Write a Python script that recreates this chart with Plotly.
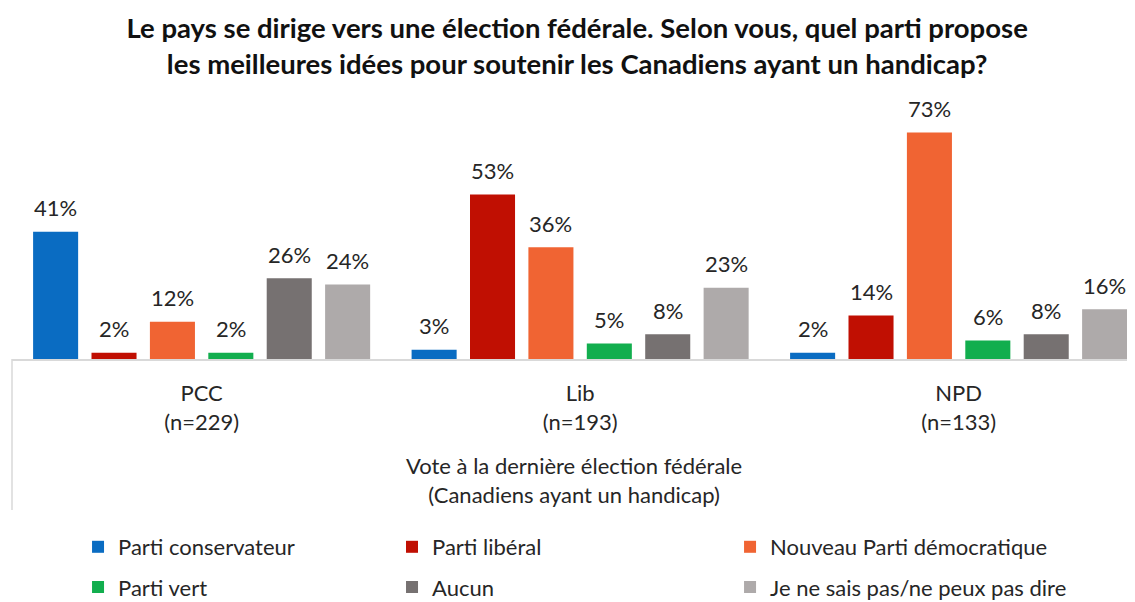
import plotly.graph_objects as go

groups = ["PCC<br>(n=229)", "Lib<br>(n=193)", "NPD<br>(n=133)"]
series = ["Parti conservateur", "Parti libéral", "Nouveau Parti démocratique",
          "Parti vert", "Aucun", "Je ne sais pas/ne peux pas dire"]
conservateur = [41, 3, 2]
liberal = [2, 53, 14]
npd = [12, 36, 73]
vert = [2, 5, 6]
aucun = [26, 8, 8]
nsp = [24, 23, 16]
values = [conservateur, liberal, npd, vert, aucun, nsp]
colors = ["#0A6CC2", "#C00F02", "#F06433", "#12AE4E", "#767171", "#AEAAAA"]

FONT = "Lato"
TXT = "#262626"
pitch = 0.1543
width = 0.119
xs = [0, 1, 2]

# legend slot layout: 3 columns x 2 rows
legend_cols = [0.0588, 0.3384, 0.6394]
legend_rows = [0.0926, 0.0250]

fig = go.Figure()
annotations = []
legends = {}
for i, (name, vals, col) in enumerate(zip(series, values, colors)):
    off = (i - 2.5) * pitch - width / 2
    lid = "legend" if i == 0 else f"legend{i + 1}"
    legends[lid] = dict(
        orientation="h", x=legend_cols[i % 3], xanchor="left",
        y=legend_rows[i // 3], yanchor="middle", yref="container",
        font=dict(family=FONT, size=22, color=TXT), bgcolor="rgba(0,0,0,0)",
    )
    fig.add_trace(go.Bar(
        x=xs, y=vals, name=name, offset=off, width=width,
        marker=dict(color=col, line=dict(width=0)),
        legend=lid, showlegend=True,
        hovertemplate="%{y}%<extra>" + name + "</extra>",
    ))
    for g, v in zip(xs, vals):
        annotations.append(dict(
            x=g + off + width / 2, y=v, xref="x", yref="y",
            text=f"{v}%", showarrow=False, yshift=24, yanchor="middle",
            font=dict(family=FONT, size=22, color=TXT),
        ))

annotations.append(dict(
    x=0.5, xref="paper", y=-0.467, yref="paper",
    text="Vote à la dernière élection fédérale<br>(Canadiens ayant un handicap)",
    showarrow=False, yanchor="middle",
    font=dict(family=FONT, size=22, color=TXT),
))

fig.update_layout(
    width=1127, height=594,
    margin=dict(l=4, r=0, t=92, b=243),
    paper_bgcolor="white", plot_bgcolor="white",
    barmode="overlay", showlegend=True,
    title=dict(
        text="Le pays se dirige vers une élection fédérale. Selon vous, quel parti propose<br>les meilleures idées pour soutenir les Canadiens ayant un handicap?",
        x=0.505, xanchor="center", y=0.9487, yanchor="middle",
        font=dict(family=FONT, size=27.5, color="#111111", weight="bold"),
    ),
    font=dict(family=FONT, size=22, color=TXT),
    xaxis=dict(
        range=[-0.501, 2.466], tickvals=xs, ticktext=groups,
        showgrid=False, zeroline=False, showline=True, linecolor="#D9D9D9",
        linewidth=1.5, ticks="", ticklabelstandoff=14,
        tickfont=dict(family=FONT, size=22, color=TXT),
        fixedrange=True,
    ),
    yaxis=dict(range=[0, 83.5], visible=False, fixedrange=True),
    annotations=annotations,
    shapes=[dict(type="line", xref="paper", yref="paper", x0=0, x1=0, y0=0, y1=-0.583,
                 line=dict(color="#D9D9D9", width=1.5))],
    **legends,
)

fig.write_html("out.html")
